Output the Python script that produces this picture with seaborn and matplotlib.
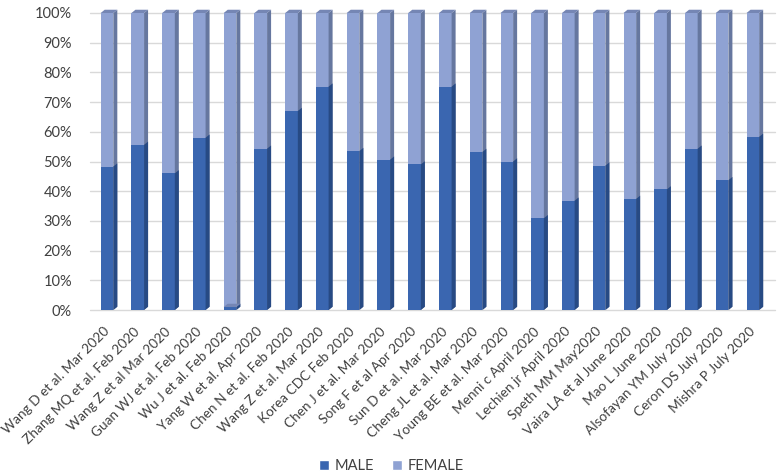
import numpy as np
import pandas as pd
import matplotlib
matplotlib.use("Agg")
import matplotlib.pyplot as plt
import seaborn as sns
from matplotlib.patches import Polygon

studies = ["Wang D et al. Mar 2020", "Zhang MQ et al. Feb 2020", "Wang Z et al Mar 2020",
           "Guan WJ et al. Feb 2020", "Wu J et al. Feb 2020", "Yang W et al. Apr 2020",
           "Chen N et al. Feb 2020", "Wang Z et al. Mar 2020", "Korea CDC Feb 2020",
           "Chen J et al. Mar 2020", "Song F et al Apr 2020", "Sun D et al. Mar 2020",
           "Cheng JL et al. Mar 2020", "Young BE et al. Mar 2020", "Menni c April 2020",
           "Lechien jr April 2020", "Speth MM May2020", "Vaira LA et al June 2020",
           "Mao L June 2020", "Alsofayan YM July 2020", "Ceron DS July 2020",
           "Mishra P July 2020"]
male = [48.3, 55.6, 46.0, 58.0, 1.0, 54.3, 67.0, 75.2, 53.5, 50.6, 49.0, 75.2,
        53.2, 50.0, 30.9, 36.8, 48.6, 37.4, 40.6, 54.3, 43.7, 58.3]
female = [100 - m for m in male]

df = pd.DataFrame({"study": studies, "male": np.array(male) / 100,
                   "total": (np.array(male) + np.array(female)) / 100})

male_c, male_side = "#3A66B0", "#274A84"
fem_c, fem_side, fem_top = "#8FA2D3", "#66779F", "#7586B4"

sns.set_style("white")
plt.rcParams["font.family"] = ["Lato", "DejaVu Sans"]
fig = plt.figure(figsize=(7.83, 4.76), dpi=100)
ax = fig.add_axes([90 / 783, (476 - 310) / 476, 685 / 783, 297 / 476])

w = 0.41
sns.barplot(data=df, x="study", y="total", color=fem_c, width=w, saturation=1,
            ax=ax, linewidth=0, zorder=3)
sns.barplot(data=df, x="study", y="male", color=male_c, width=w, saturation=1,
            ax=ax, linewidth=0, zorder=4)

# fake 3d depth
dx, dy = 0.13, 0.011
n = len(studies)
for i, p in enumerate(ax.patches):
    x0, h, bw = p.get_x(), p.get_height(), p.get_width()
    is_male = i >= n
    side = male_side if is_male else fem_side
    z = 4 if is_male else 3
    ax.add_patch(Polygon([(x0 + bw, 0), (x0 + bw + dx, dy), (x0 + bw + dx, h + dy), (x0 + bw, h)],
                         closed=True, fc=side, ec="none", zorder=z, clip_on=False))
    if not is_male or h < 0.02:
        ax.add_patch(Polygon([(x0, h), (x0 + dx, h + dy), (x0 + bw + dx, h + dy), (x0 + bw, h)],
                             closed=True, fc=fem_top, ec="none", zorder=z, clip_on=False))

ax.set_xlim(-0.553, 21.72)
ax.set_ylim(0, 1)
ticks = np.arange(0, 1.01, 0.1)
ax.set_yticks(ticks)
ax.set_yticklabels([f"{int(round(v * 100))}%" for v in ticks], fontsize=10.5, color="#404040")
ax.yaxis.grid(True, color="#D9D9D9", linewidth=1, zorder=0)
for line in ax.get_ygridlines():
    line.set_clip_on(False)
ax.set_xticks(range(n))
ax.set_xticklabels(studies, rotation=45, ha="right", va="center", rotation_mode="anchor",
                   fontsize=9.8, color="#404040")
ax.tick_params(axis="y", length=0, pad=13)
ax.tick_params(axis="x", length=0, pad=14)
ax.set_xlabel("")
ax.set_ylabel("")
for s in ax.spines.values():
    s.set_visible(False)

handles = [plt.Rectangle((0, 0), 1, 1, fc=male_c), plt.Rectangle((0, 0), 1, 1, fc=fem_c)]
fig.legend(handles, ["MALE", "FEMALE"], loc="center", bbox_to_anchor=(0.5, 10 / 476),
           ncol=2, frameon=False, fontsize=10.5, handlelength=0.7, handleheight=0.7,
           handletextpad=0.4, columnspacing=1.2, labelcolor="#404040")

fig.savefig("out.png", dpi=100)
